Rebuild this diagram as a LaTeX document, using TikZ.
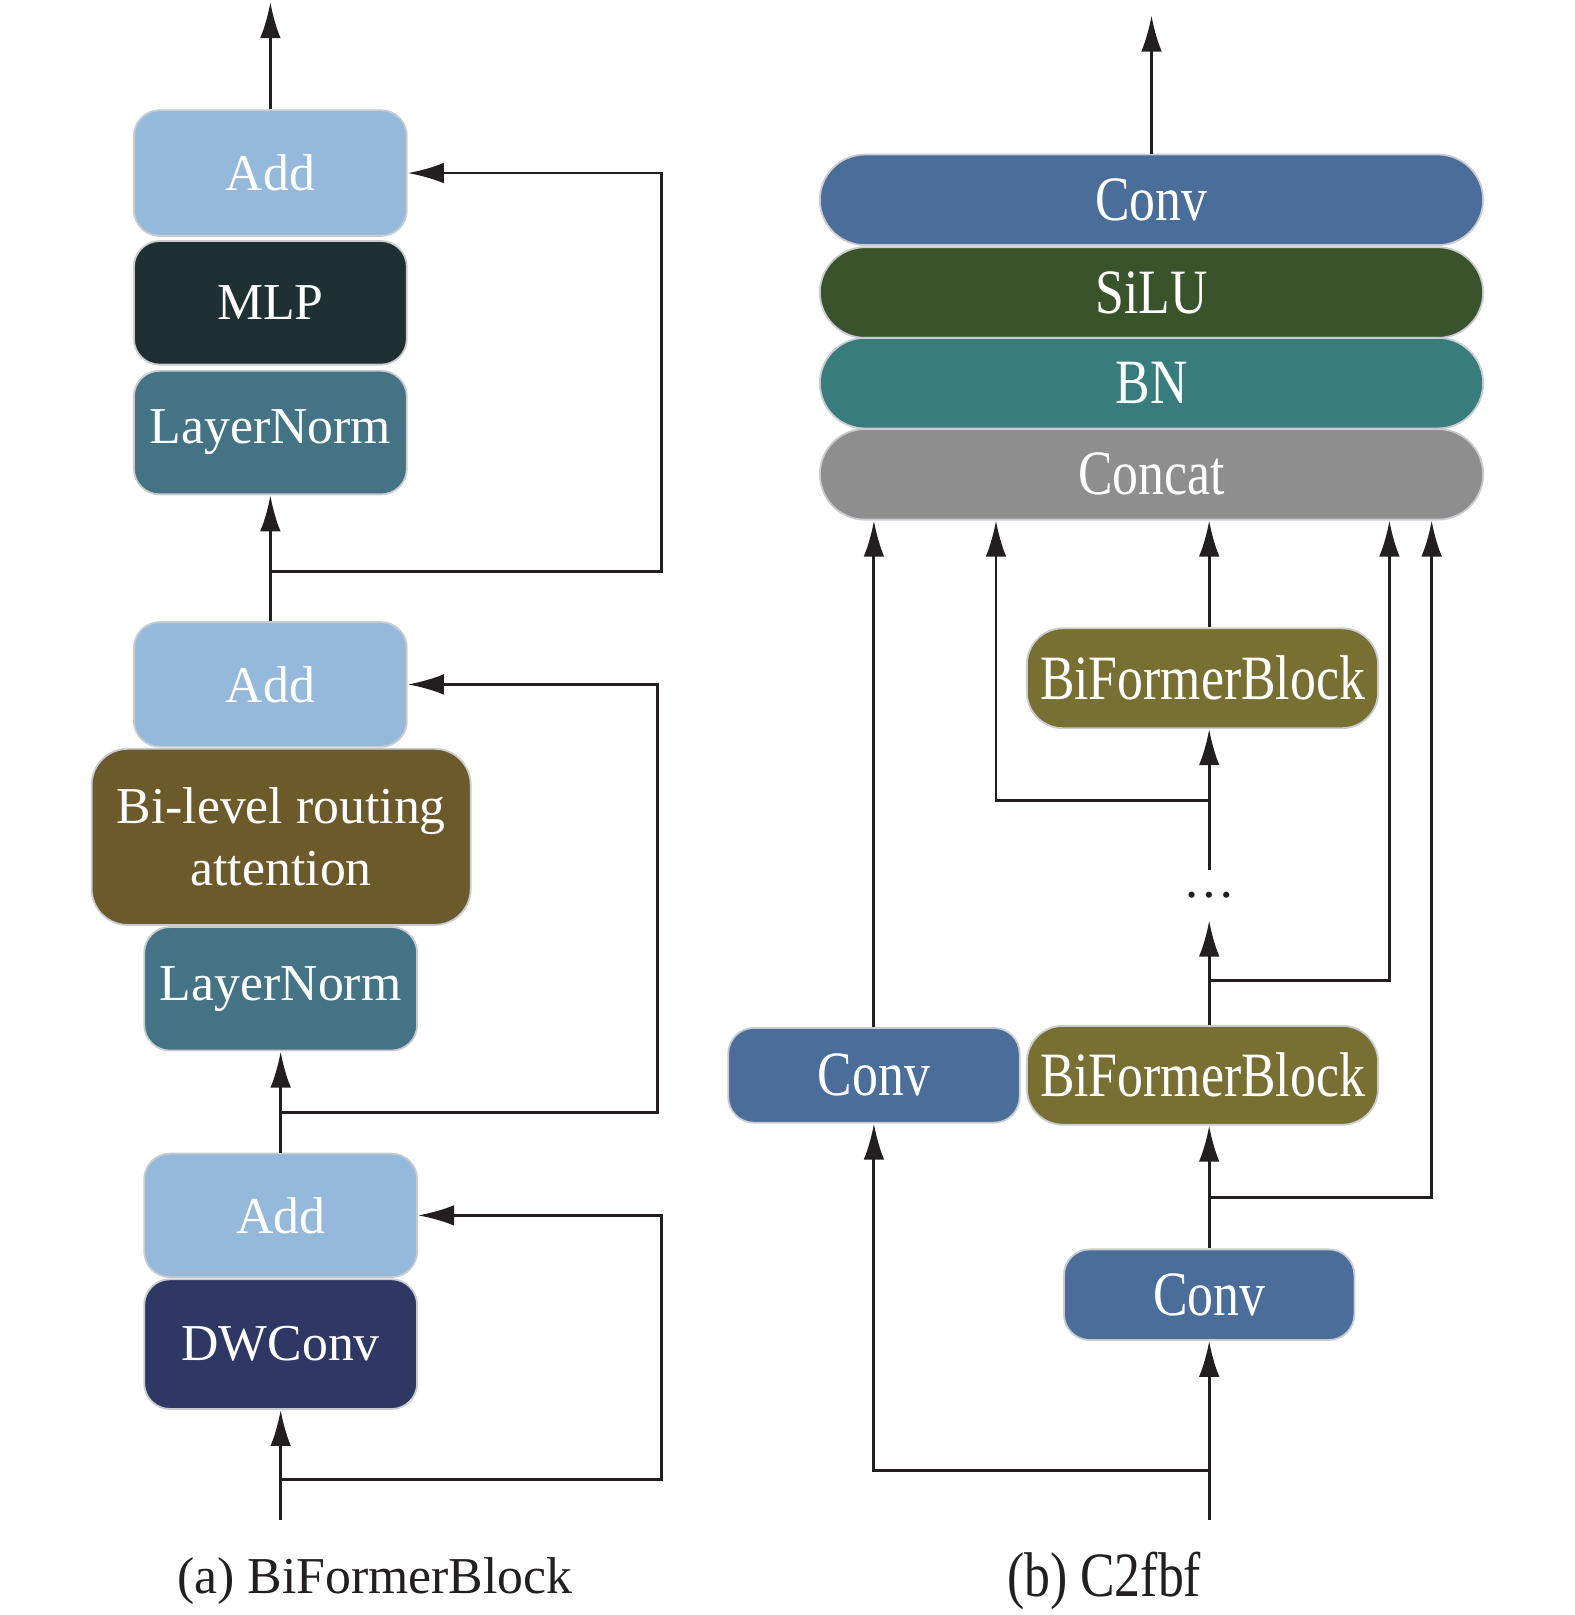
\documentclass[tikz,border=0pt]{standalone}
\usepackage{fontspec}
\setmainfont{Liberation Serif}
\usepackage{graphicx}
\usepackage{tikz}
\usetikzlibrary{arrows.meta,calc}
\definecolor{BAdd}{HTML}{95B9DB}
\definecolor{BMlp}{HTML}{1E3032}
\definecolor{BNorm}{HTML}{437385}
\definecolor{BRoute}{HTML}{6D5A2B}
\definecolor{BDw}{HTML}{2F3864}
\definecolor{BConv}{HTML}{4A6D9A}
\definecolor{BSilu}{HTML}{39532B}
\definecolor{BBn}{HTML}{397C7D}
\definecolor{BCat}{HTML}{8F8E8F}
\definecolor{BBlock}{HTML}{787032}
\definecolor{BInk}{HTML}{231F20}
\definecolor{BRule}{HTML}{C8CCD0}
\newcommand{\tallText}[1]{\scalebox{1}[1.22]{#1}}

\begin{document}
\begin{tikzpicture}[x=0.1mm, y=-0.1mm,
  every node/.style={align=center, font=\fontsize{14.3}{17}\selectfont},
  blk/.style={draw=BRule, line width=0.5pt, text=white, inner sep=0pt, rounded corners=2.5mm},
  pill/.style={blk, rounded corners=4.4mm, minimum width=64.4mm, minimum height=8.8mm},
  arr/.style={draw=BInk, line width=0.8pt, -{Latex[length=3.5mm,width=2mm]}}]
  \useasboundingbox (0,0) rectangle (1529,1568);

  % (a) BiFormerBlock
  \node[blk, fill=BAdd,  minimum width=26.5mm, minimum height=12.2mm] (add1) at (262.5,168) {Add};
  \node[blk, fill=BMlp,  minimum width=26.5mm, minimum height=12mm]   (mlp)  at (262.5,294) {MLP};
  \node[blk, fill=BNorm, minimum width=26.5mm, minimum height=12mm]   (lnA)  at (262.5,420) {LayerNorm};
  \node[blk, fill=BAdd,  minimum width=26.5mm, minimum height=12.1mm] (add2) at (262.5,664.5) {Add};
  \node[blk, fill=BRoute, rounded corners=3.5mm, minimum width=36.8mm, minimum height=17.1mm] (route) at (273,812.5) {Bi-level routing\\attention};
  \node[blk, fill=BNorm, minimum width=26.5mm, minimum height=12mm]   (lnB)  at (272.5,960) {LayerNorm};
  \node[blk, fill=BAdd,  minimum width=26.5mm, minimum height=12mm]   (add3) at (272.5,1180) {Add};
  \node[blk, fill=BDw,   minimum width=26.5mm, minimum height=12.6mm] (dw)   at (272.5,1305) {DWConv};

  \coordinate (outA) at (262.5,2);
  \coordinate (inA)  at (272.5,1476);
  \coordinate (jA)   at (262.5,555);
  \coordinate (jB)   at (272.5,1080);
  \coordinate (jC)   at (272.5,1436);

  \draw[arr] (add1.north) -- (outA);
  \draw[arr] (add2.north) -- (lnA.south);
  \draw[arr] (jA) -- ++(379.5,0) |- (add1.east);
  \draw[arr] (add3.north) -- (lnB.south);
  \draw[arr] (jB) -- ++(365.5,0) |- (add2.east);
  \draw[arr] (inA) -- (dw.south);
  \draw[arr] (jC) -- ++(369.5,0) |- (add3.east);

  \node[text=BInk] (capA) at (364,1535) {(a) BiFormerBlock};

  % (b) C2fbf
  \node[pill, fill=BConv] (conv) at (1118,194)   {\tallText{Conv}};
  \node[pill, fill=BSilu] (silu) at (1118,284)   {\tallText{SiLU}};
  \node[pill, fill=BBn]   (bn)   at (1118,372)   {\tallText{BN}};
  \node[pill, fill=BCat]  (cat)  at (1118,460.5) {\tallText{Concat}};

  \node[blk, fill=BConv,  minimum width=28.3mm, minimum height=9.2mm] (convL) at (848.5,1044) {\tallText{Conv}};
  \node[blk, fill=BBlock, rounded corners=3.5mm, minimum width=34.1mm, minimum height=9.6mm] (bfb1) at (1167.5,1044) {\tallText{BiFormerBlock}};
  \node[blk, fill=BBlock, rounded corners=3.5mm, minimum width=34.1mm, minimum height=9.7mm] (bfb2) at (1167.5,658.5) {\tallText{BiFormerBlock}};
  \node[blk, fill=BConv,  minimum width=28.2mm, minimum height=8.8mm] (convB) at (1174,1257) {\tallText{Conv}};
  \node[inner sep=0pt, minimum height=4.8mm, text=BInk] (dots) at (1174,869) {\ldots};

  \coordinate (outB) at (1118,15);
  \coordinate (inB)  at (1174,1476);
  \coordinate (jD)   at (1174,1428);
  \coordinate (jE)   at (1174,1163);
  \coordinate (jF)   at (1174,952);
  \coordinate (jG)   at (1174,777);

  \draw[arr] (conv.north) -- (outB);
  \draw[arr] (inB) -- (convB.south);
  \draw[arr] (jD) -| (convL.south);
  \draw[arr] (convL.north) -- (convL.north |- cat.south);
  \draw[arr] (convB.north) -- (convB.north |- bfb1.south);
  \draw[arr] (jE) -| ([xshift=27.2mm]cat.south);
  \draw[arr] (bfb1.north -| inB) -- (dots.south);
  \draw[arr] (jF) -| ([xshift=23.1mm]cat.south);
  \draw[arr] (dots.north) -- (dots.north |- bfb2.south);
  \draw[arr] (jG) -| ([xshift=-15.1mm]cat.south);
  \draw[arr] (bfb2.north -| inB) -- (inB |- cat.south);

  \node[text=BInk] (capB) at (1072,1535) {\tallText{(b) C2fbf}};
\end{tikzpicture}
\end{document}
